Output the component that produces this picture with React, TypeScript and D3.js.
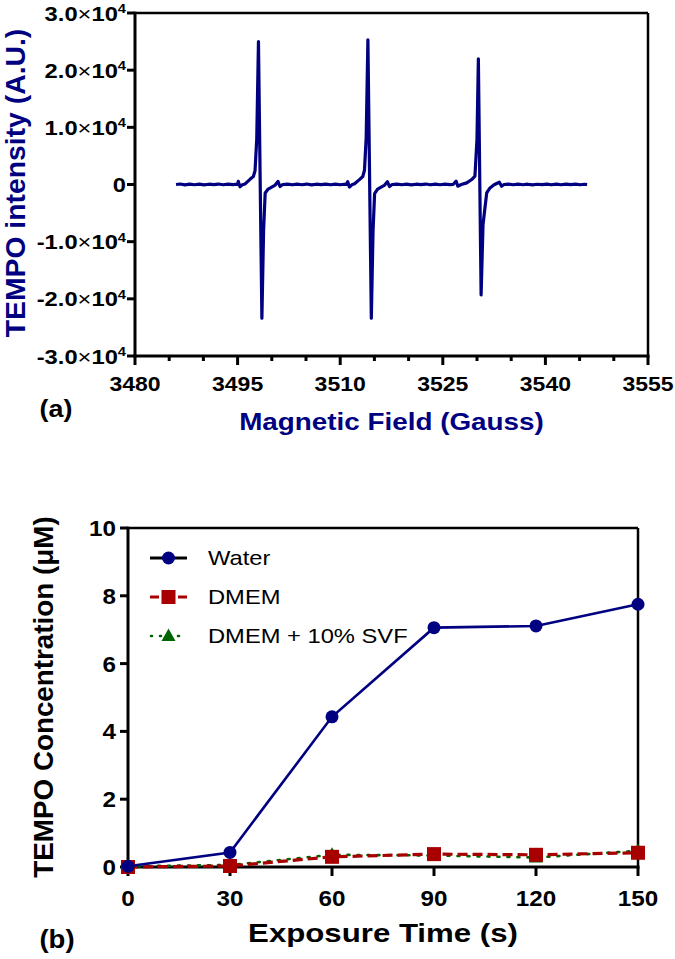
import React from "react";
import * as d3 from "d3";

const FONT = "'Liberation Sans', Arial, Helvetica, sans-serif";
const NAVY = "#000080";
const RED = "#a80000";
const GREEN = "#006400";

// ---------- Panel (a): EPR spectrum ----------
const fieldTicks = [3480, 3495, 3510, 3525, 3540, 3555];
const fieldMinorTicks = [3485, 3490, 3500, 3505, 3515, 3520, 3530, 3535, 3545, 3550];
const intensityTicks = [-30000, -20000, -10000, 0, 10000, 20000, 30000];

// [field (G), intensity (A.U.)]
const spectrum: [number, number][] = [
  [3486.0, 0], [3486.6, 90], [3487.3, -60], [3488.0, 70], [3488.7, -40], [3489.4, 60],
  [3490.1, -70], [3490.8, 50], [3491.5, -30], [3492.2, 80], [3492.9, -50], [3493.6, 60],
  [3494.3, -20], [3494.8, 40],
  [3495.0, 0], [3495.1, 550], [3495.35, -400], [3495.7, -50], [3496.1, 100], [3496.85, 950],
  [3497.3, 1400], [3497.55, 2400], [3497.8, 8000], [3498.05, 25000], [3498.55, -23400],
  [3498.8, -8000], [3499.03, -1500], [3499.47, -800], [3500.5, -100], [3500.9, 550],
  [3501.2, -350], [3501.6, 0],
  [3502.3, 70], [3503.0, -50], [3503.7, 60], [3504.4, -40], [3505.1, 80], [3505.8, -60],
  [3506.5, 50], [3507.2, -30], [3507.9, 70], [3508.6, -50], [3509.3, 60], [3510.0, -40],
  [3510.6, 50], [3510.9, 0],
  [3511.1, 500], [3511.35, -450], [3511.7, -50], [3512.1, 120], [3512.85, 900],
  [3513.3, 1400], [3513.55, 2500], [3513.8, 8200], [3514.05, 25300], [3514.55, -23400],
  [3514.8, -8200], [3515.03, -1600], [3515.47, -800], [3516.5, -100], [3516.9, 500],
  [3517.2, -350], [3517.6, 0],
  [3518.3, 60], [3519.0, -40], [3519.7, 70], [3520.4, -60], [3521.1, 50], [3521.8, -30],
  [3522.5, 80], [3523.2, -50], [3523.9, 60], [3524.6, -40], [3525.3, 50], [3526.0, -30],
  [3526.5, 0],
  [3526.95, 580], [3527.2, -300], [3527.7, 0], [3528.5, 280], [3529.23, 870], [3529.7, 1450],
  [3530.0, 8000], [3530.2, 22000], [3530.6, -19300], [3530.88, -7000], [3531.42, -1470],
  [3531.9, -600], [3532.5, -50], [3533.27, 400], [3533.6, -300], [3533.95, 0],
  [3534.6, 60], [3535.3, -50], [3536.0, 70], [3536.7, -40], [3537.4, 50], [3538.1, -60],
  [3538.8, 40], [3539.5, -30], [3540.2, 70], [3540.9, -50], [3541.6, 60], [3542.3, -40],
  [3543.0, 50], [3543.7, -30], [3544.4, 60], [3545.1, -50], [3545.7, 40], [3546.1, 0],
];

// ---------- Panel (b): TEMPO concentration ----------
const exposureTime = [0, 30, 60, 90, 120, 150];
const waterConc = [0.02, 0.43, 4.43, 7.06, 7.11, 7.75];
const dmemConc = [0.0, 0.03, 0.3, 0.38, 0.36, 0.42];
const svfConc = [0.02, 0.06, 0.36, 0.34, 0.28, 0.48];
const concTicks = [0, 2, 4, 6, 8, 10];
const timeTicks = [0, 30, 60, 90, 120, 150];
const seriesNames = ["Water", "DMEM", "DMEM + 10% SVF"];

function T(props: {
  x: number; y: number; sx?: number; size: number; weight?: string | number;
  anchor?: string; fill?: string; rotate?: number; children: React.ReactNode;
}) {
  const { x, y, sx = 1, size, weight = "bold", anchor = "middle", fill = "#000", rotate, children } = props;
  return (
    <g transform={`translate(${x},${y})${rotate ? ` rotate(${rotate})` : ""} scale(${sx},1)`}>
      <text textAnchor={anchor as any} fontSize={size} fontWeight={weight as any} fill={fill} fontFamily={FONT}>
        {children}
      </text>
    </g>
  );
}

function Square({ cx, cy, s, fill }: { cx: number; cy: number; s: number; fill: string }) {
  return <rect x={cx - s / 2} y={cy - s / 2} width={s} height={s} fill={fill} />;
}
function Tri({ cx, cy, s, fill }: { cx: number; cy: number; s: number; fill: string }) {
  const h = s * 0.9;
  return <path d={`M${cx},${cy - h * 0.6} L${cx + s / 2},${cy + h * 0.4} L${cx - s / 2},${cy + h * 0.4} Z`} fill={fill} />;
}

export default function App() {
  const ax = d3.scaleLinear().domain([3480, 3555]).range([135, 648]);
  const ay = d3.scaleLinear().domain([-30000, 30000]).range([356, 13]);
  const specPath = d3.line<[number, number]>().x((d) => ax(d[0])).y((d) => ay(d[1]))(spectrum) || "";

  const bx = d3.scaleLinear().domain([0, 150]).range([128, 638]);
  const by = d3.scaleLinear().domain([0, 10]).range([867, 528]);
  const mk = (vals: number[]) =>
    d3.line<number>().x((_, i) => bx(exposureTime[i])).y((v) => by(v))(vals) || "";

  const [ax0, ax1] = ax.range();
  const [ayB, ayT] = ay.range();
  const [bx0, bx1] = bx.range();
  const [byB, byT] = by.range();

  const legendY = [558, 597, 636];

  return (
    <svg width={675} height={959} style={{ position: "absolute", left: 0, top: 0, display: "block", background: "#fff" }}>
      <rect width={675} height={959} fill="#fff" />

      {/* ===== Panel (a) ===== */}
      <line x1={ax0} x2={ax1} y1={ayT} y2={ayT} stroke="#000" strokeWidth={2.5} />
      <line x1={ax1} x2={ax1} y1={ayT} y2={ayB} stroke="#000" strokeWidth={2.5} />
      <line x1={ax0} x2={ax0} y1={ayT - 1.2} y2={ayB + 1.5} stroke="#000" strokeWidth={3} />
      {intensityTicks.map((v) => (
        <g key={v}>
          <line x1={ax0 - 8} x2={ax0} y1={ay(v)} y2={ay(v)} stroke="#000" strokeWidth={3} />
          <T x={126} y={ay(v) + 7.5} size={21} sx={1.13} anchor="end">
            {v === 0 ? (
              "0"
            ) : (
              <>
                {(v / 1e4).toFixed(1)}
                <tspan fontWeight="normal">×</tspan>10
                <tspan fontSize={13} dy={-7.5}>4</tspan>
              </>
            )}
          </T>
        </g>
      ))}
      <line x1={ax0 - 1.5} x2={ax1 + 1.5} y1={ayB} y2={ayB} stroke="#000" strokeWidth={3} />
      {fieldMinorTicks.map((v) => (
        <line key={"m" + v} x1={ax(v)} x2={ax(v)} y1={ayB} y2={ayB + 5} stroke="#000" strokeWidth={3} />
      ))}
      {fieldTicks.map((v) => (
        <g key={v}>
          <line x1={ax(v)} x2={ax(v)} y1={ayB} y2={ayB + 9} stroke="#000" strokeWidth={3} />
          <T x={ax(v)} y={391} size={20} sx={1.15}>{String(v)}</T>
        </g>
      ))}
      <path d={specPath} fill="none" stroke={NAVY} strokeWidth={3.2} strokeLinejoin="round" />
      <T x={25} y={183} size={27} sx={1.05} rotate={-90} fill={NAVY}>TEMPO intensity (A.U.)</T>
      <T x={(ax0 + ax1) / 2} y={430} size={24} sx={1.16} fill={NAVY}>Magnetic Field (Gauss)</T>
      <T x={56} y={417} size={24} sx={1.12}>(a)</T>

      {/* ===== Panel (b) ===== */}
      <line x1={bx0} x2={bx1} y1={byT} y2={byT} stroke="#000" strokeWidth={2.5} />
      <line x1={bx1} x2={bx1} y1={byT} y2={byB} stroke="#000" strokeWidth={2.5} />
      <line x1={bx0} x2={bx0} y1={byT - 1.2} y2={byB + 1.5} stroke="#000" strokeWidth={3} />
      {concTicks.map((v) => (
        <g key={v}>
          <line x1={bx0 - 8} x2={bx0} y1={by(v)} y2={by(v)} stroke="#000" strokeWidth={3} />
          <T x={116} y={by(v) + 8} size={22} sx={1.1} anchor="end">{String(v)}</T>
        </g>
      ))}
      <line x1={bx0 - 1.5} x2={bx1 + 1.5} y1={byB} y2={byB} stroke="#000" strokeWidth={3} />
      {timeTicks.map((v) => (
        <g key={v}>
          <line x1={bx(v)} x2={bx(v)} y1={byB} y2={byB + 9} stroke="#000" strokeWidth={3} />
          <T x={bx(v)} y={906} size={22} sx={1.1}>{String(v)}</T>
        </g>
      ))}

      <path d={mk(svfConc)} fill="none" stroke={GREEN} strokeWidth={2.6} strokeDasharray="2,8" strokeLinecap="round" />
      {svfConc.map((v, i) => (
        <Tri key={"t" + i} cx={bx(exposureTime[i])} cy={by(v)} s={14} fill={GREEN} />
      ))}
      <path d={mk(dmemConc)} fill="none" stroke={RED} strokeWidth={3.2} strokeDasharray="10,5" />
      {dmemConc.map((v, i) => (
        <Square key={"s" + i} cx={bx(exposureTime[i])} cy={by(v)} s={14} fill={RED} />
      ))}
      <path d={mk(waterConc)} fill="none" stroke={NAVY} strokeWidth={2.6} />
      {waterConc.map((v, i) => (
        <circle key={"c" + i} cx={bx(exposureTime[i])} cy={by(v)} r={6.5} fill={NAVY} />
      ))}

      <line x1={150} x2={187} y1={legendY[0]} y2={legendY[0]} stroke="#000" strokeWidth={3} />
      <circle cx={168.5} cy={legendY[0]} r={6.5} fill={NAVY} />
      <line x1={150} x2={187} y1={legendY[1]} y2={legendY[1]} stroke={RED} strokeWidth={3.2} strokeDasharray="9,5" />
      <Square cx={168.5} cy={legendY[1]} s={14} fill={RED} />
      <line x1={151} x2={187} y1={legendY[2]} y2={legendY[2]} stroke={GREEN} strokeWidth={2.6} strokeDasharray="1,8" strokeLinecap="round" />
      <Tri cx={168.5} cy={legendY[2]} s={14} fill={GREEN} />
      {seriesNames.map((n, i) => (
        <T key={n} x={208} y={legendY[i] + 7} size={21} sx={1.13} weight="normal" anchor="start">{n}</T>
      ))}

      <T x={53} y={697} size={27} sx={1.03} rotate={-90}>TEMPO Concentration (μM)</T>
      <T x={(bx0 + bx1) / 2} y={942} size={26} sx={1.2}>Exposure Time (s)</T>
      <T x={57} y={948} size={25} sx={1.1}>(b)</T>
    </svg>
  );
}
